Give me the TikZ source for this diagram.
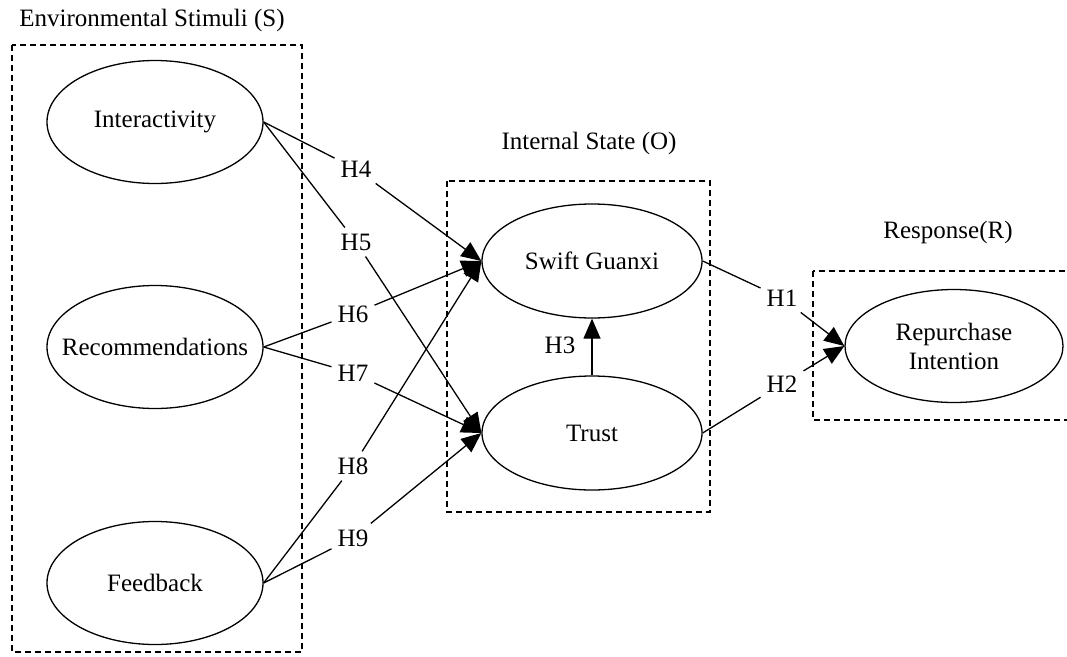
\documentclass[tikz,border=0pt]{standalone}
\usepackage{fontspec}
\setmainfont{Liberation Serif}
\usetikzlibrary{arrows.meta, shapes.geometric}
\tikzset{
    cnode/.style={ellipse, draw, line width=1.3pt, inner sep=0pt, font=\fontsize{25}{29}\selectfont, align=center},
    hnode/.style={inner sep=6pt, font=\fontsize{25}{29}\selectfont},
    tnode/.style={font=\fontsize{25}{29}\selectfont},
    gbox/.style={draw, line width=1.2pt, dash pattern=on 6pt off 4pt},
    hline/.style={draw, line width=1.3pt},
    harrow/.style={draw, line width=1.3pt, -{Triangle[length=20pt, width=17pt]}},
}

\begin{document}
\begin{tikzpicture}[x=1pt, y=-1pt]
    \useasboundingbox (0,0) rectangle (1067,656);
    % groups
    \draw[gbox] (12,45) rectangle (302,652);
    \draw[gbox] (447,181) rectangle (710,512);
    \draw[gbox] (813,271) rectangle (1075,420);
    \node[tnode] (sttl) at (152,20) {Environmental Stimuli (S)};
    \node[tnode] (ottl) at (589,143) {Internal State (O)};
    \node[tnode] (rttl) at (948,232) {Response(R)};
    % constructs
    \node[cnode, minimum width=216pt, minimum height=123pt] (int) at (155,122) {Interactivity};
    \node[cnode, minimum width=216pt, minimum height=123pt, inner xsep=-20pt] (rec) at (155,347) {Recommendations};
    \node[cnode, minimum width=216pt, minimum height=123pt] (fb) at (155,583) {Feedback};
    \node[cnode, minimum width=220pt, minimum height=114pt] (sg) at (592,261) {Swift Guanxi};
    \node[cnode, minimum width=220pt, minimum height=114pt] (tr) at (592,433) {Trust};
    \node[cnode, minimum width=218pt, minimum height=113pt] (ri) at (954,346) {Repurchase\\Intention};
    % hypotheses
    \node[hnode] (h4) at (356,169) {H4};
    \node[hnode] (h5) at (356,242) {H5};
    \node[hnode] (h6) at (353,314) {H6};
    \node[hnode] (h7) at (353,373) {H7};
    \node[hnode] (h8) at (353,466) {H8};
    \node[hnode] (h9) at (353,538) {H9};
    \node[hnode] (h1) at (782,298) {H1};
    \node[hnode] (h2) at (782,384) {H2};
    \node[tnode] (h3) at (560,345) {H3};
    % paths
    \draw[hline] (int.east) -- (h4);
    \draw[harrow] (h4) -- (sg.west);
    \draw[hline] (int.east) -- (h5);
    \draw[harrow] (h5) -- (tr.west);
    \draw[hline] (rec.east) -- (h6);
    \draw[harrow] (h6) -- (sg.west);
    \draw[hline] (rec.east) -- (h7);
    \draw[harrow] (h7) -- (tr.west);
    \draw[hline] (fb.east) -- (h8);
    \draw[harrow] (h8) -- (sg.west);
    \draw[hline] (fb.east) -- (h9);
    \draw[harrow] (h9) -- (tr.west);
    \draw[hline] (sg.east) -- (h1);
    \draw[harrow] (h1) -- (ri.west);
    \draw[hline] (tr.east) -- (h2);
    \draw[harrow] (h2) -- (ri.west);
    \draw[harrow] (tr.north) -- (sg.south);
\end{tikzpicture}
\end{document}
